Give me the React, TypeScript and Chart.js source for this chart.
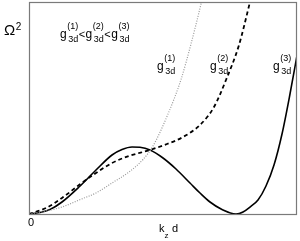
import React, { useEffect, useRef } from "react";
import { Chart, registerables } from "chart.js";

Chart.register(...registerables);

// x = k_z d (arbitrary units 0..10), y = Omega^2 (arbitrary units 0..10)
const g3X = [0, 0.412, 0.787, 1.236, 1.873, 2.509, 3.109, 3.483, 3.858, 4.157, 4.532, 5.019, 5.506, 6.03, 6.404, 6.779, 7.228, 7.753, 8.015, 8.277, 8.577, 8.876, 9.176, 9.476, 9.775, 10.075];
const g3Y = [0, 0.071, 0.212, 0.566, 1.274, 2.075, 2.783, 3.042, 3.16, 3.146, 3.019, 2.642, 2.123, 1.462, 0.991, 0.566, 0.212, 0, 0.094, 0.33, 0.66, 1.321, 2.311, 3.774, 5.66, 7.736];

const g2X = [0, 0.637, 1.236, 1.873, 2.509, 3.109, 3.745, 4.532, 5.169, 5.768, 6.404, 6.929, 7.378, 7.865, 8.277, 8.427];
const g2Y = [0, 0.283, 0.755, 1.368, 1.934, 2.406, 2.736, 3.019, 3.302, 3.632, 4.198, 5.047, 6.321, 7.972, 10.0, 10.755];

const g1X = [0, 0.637, 1.236, 1.873, 2.509, 3.109, 3.745, 4.27, 4.644, 5.206, 5.693, 6.067, 6.442, 6.554];
const g1Y = [0, 0.142, 0.33, 0.66, 0.991, 1.462, 1.981, 2.571, 3.208, 4.717, 6.344, 8.019, 9.906, 10.519];

const seriesLabels = ["(1)", "(2)", "(3)"];

const pts = (xs: number[], ys: number[]) => xs.map((x, i) => ({ x, y: ys[i] }));

const FONT = "'Liberation Sans', Arial, Helvetica, sans-serif";

function drawG(ctx: CanvasRenderingContext2D, x: number, base: number, sup: string) {
  ctx.font = `12px ${FONT}`;
  ctx.fillText("g", x, base);
  const gw = ctx.measureText("g").width;
  ctx.font = `9px ${FONT}`;
  const sx = x + gw + 0.5;
  ctx.fillText(sup, sx, base - 9);
  ctx.fillText("3d", sx + 1, base + 4);
  const w = Math.max(ctx.measureText(sup).width, ctx.measureText("3d").width + 1);
  return sx + w;
}

const textPlugin = {
  id: "texts",
  afterDraw(chart: any) {
    const ctx: CanvasRenderingContext2D = chart.ctx;
    const a = chart.chartArea;
    ctx.save();
    ctx.strokeStyle = "#7a7a7a";
    ctx.lineWidth = 1.2;
    ctx.strokeRect(Math.round(a.left) + 0.5, Math.round(a.top) + 0.5, Math.round(a.right - a.left), Math.round(a.bottom - a.top));
    ctx.fillStyle = "#000";
    ctx.textBaseline = "alphabetic";
    ctx.textAlign = "left";
    ctx.font = `15px ${FONT}`;
    ctx.fillText("Ω", 4, 35);
    const ow = ctx.measureText("Ω").width;
    ctx.font = `10px ${FONT}`;
    ctx.fillText("2", 4 + ow + 0.5, 30);
    let x = 60;
    for (let i = 0; i < 3; i++) {
      x = drawG(ctx, x, 38, seriesLabels[i]);
      if (i < 2) {
        ctx.font = `11px ${FONT}`;
        ctx.fillText("<", x + 0.5, 38);
        x += ctx.measureText("<").width + 1;
      }
    }
    drawG(ctx, 157, 70, seriesLabels[0]);
    drawG(ctx, 210, 70, seriesLabels[1]);
    drawG(ctx, 273, 70, seriesLabels[2]);
    ctx.font = `11px ${FONT}`;
    ctx.fillText("0", 28, 226);
    ctx.fillText("k", 159, 232);
    const kw = ctx.measureText("k").width;
    ctx.font = `8px ${FONT}`;
    ctx.fillText("z", 159 + kw, 238);
    ctx.font = `11px ${FONT}`;
    ctx.fillText("d", 172, 232);
    ctx.restore();
  },
};

export default function App() {
  const ref = useRef<HTMLCanvasElement>(null);
  useEffect(() => {
    if (!ref.current) return;
    const chart = new Chart(ref.current, {
      type: "line",
      data: {
        datasets: [
          {
            data: pts(g1X, g1Y),
            borderColor: "#9a9a9a",
            borderWidth: 1.2,
            borderDash: [1, 1.5],
            pointRadius: 0,
            cubicInterpolationMode: "monotone",
            fill: false,
          },
          {
            data: pts(g2X, g2Y),
            borderColor: "#000",
            borderWidth: 1.8,
            borderDash: [4, 3],
            pointRadius: 0,
            cubicInterpolationMode: "monotone",
            fill: false,
          },
          {
            data: pts(g3X, g3Y),
            borderColor: "#000",
            borderWidth: 1.6,
            pointRadius: 0,
            cubicInterpolationMode: "monotone",
            fill: false,
          },
        ],
      },
      options: {
        responsive: false,
        animation: false,
        events: [],
        layout: { padding: { left: 29, top: 2, right: 4, bottom: 27 } },
        plugins: { legend: { display: false }, tooltip: { enabled: false } },
        scales: {
          x: { type: "linear", min: 0, max: 10, display: false },
          y: { type: "linear", min: 0, max: 10, display: false },
        },
      },
      plugins: [textPlugin],
    });
    return () => chart.destroy();
  }, []);
  return (
    <div style={{ position: "absolute", left: 0, top: 0, width: 300, height: 241, background: "#fff" }}>
      <canvas ref={ref} width={300} height={241} style={{ width: 300, height: 241, display: "block" }} />
    </div>
  );
}
